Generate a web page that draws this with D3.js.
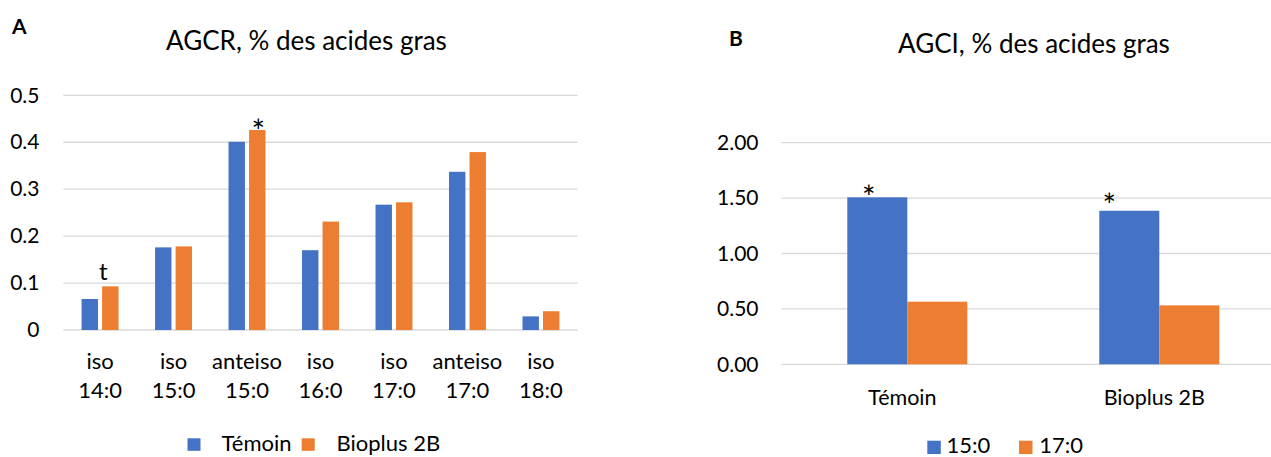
<!DOCTYPE html>
<html>
<head>
<meta charset="utf-8">
<script src="https://cdn.jsdelivr.net/npm/d3@7"></script>
<style>
  html, body { margin: 0; padding: 0; background: #fff; }
  text { font-family: Lato, "Open Sans", sans-serif; fill: #000; }
</style>
</head>
<body>
<svg id="chart" width="1271" height="457"></svg>
<script>
// Panel A: branched-chain fatty acids (AGCR)
const catsA = [["iso", "14:0"], ["iso", "15:0"], ["anteiso", "15:0"], ["iso", "16:0"],
               ["iso", "17:0"], ["anteiso", "17:0"], ["iso", "18:0"]];
const seriesA = ["Témoin", "Bioplus 2B"];
const temoinA = [0.066, 0.176, 0.401, 0.170, 0.267, 0.337, 0.029];
const bioplusA = [0.093, 0.178, 0.426, 0.231, 0.272, 0.379, 0.040];
const ticksA = [0, 0.1, 0.2, 0.3, 0.4, 0.5];
// significance marks: category index, series, symbol
const marksA = [{ cat: 0, s: 1, label: "t" }, { cat: 2, s: 1, label: "*" }];

// Panel B: odd-chain fatty acids (AGCI)
const catsB = ["Témoin", "Bioplus 2B"];
const seriesB = ["15:0", "17:0"];
const c15B = [1.507, 1.386];
const c17B = [0.565, 0.532];
const ticksB = [0, 0.5, 1.0, 1.5, 2.0];
const marksB = [{ cat: 0, s: 0, label: "*" }, { cat: 1, s: 0, label: "*" }];

const colors = ["#4472C4", "#ED7D31"];
const gridColor = "#D9D9D9";

const svg = d3.select("#chart");
svg.append("rect").attr("width", 1271).attr("height", 457).attr("fill", "#fff");

// ---------- Panel A ----------
const gA = svg.append("g");
const xA = d3.scaleBand().domain(d3.range(catsA.length)).range([63.3, 577.7]);
const xA1 = d3.scaleBand().domain([0, 1]).range([0, xA.bandwidth()]).paddingInner(0.2).paddingOuter(0.89);
const yA = d3.scaleLinear().domain([0, 0.5]).range([330, 95.3]);

gA.append("g").selectAll("line").data(ticksA).join("line")
  .attr("x1", 63.3).attr("x2", 577.7)
  .attr("y1", d => yA(d)).attr("y2", d => yA(d))
  .attr("stroke", gridColor).attr("stroke-width", 1.3);

const yAxisA = d3.axisLeft(yA).tickValues(ticksA).tickFormat(d => d === 0 ? "0" : d3.format(".1f")(d)).tickSize(0).tickPadding(0);
gA.append("g").attr("transform", "translate(39.5,0)").call(yAxisA)
  .call(g => g.select(".domain").remove())
  .call(g => g.selectAll("text").attr("font-size", 21).attr("font-family", "Lato").attr("fill", "#000"));

const dataA = [temoinA, bioplusA];
dataA.forEach((vals, s) => {
  gA.append("g").selectAll("rect").data(vals).join("rect")
    .attr("x", (d, i) => xA(i) + xA1(s))
    .attr("width", xA1.bandwidth())
    .attr("y", d => yA(d))
    .attr("height", d => yA(0) - yA(d))
    .attr("fill", colors[s]);
});

// category labels (two lines)
const xlabA = gA.append("g").selectAll("text").data(catsA).join("text")
  .attr("x", (d, i) => xA(i) + xA.bandwidth() / 2)
  .attr("text-anchor", "middle").attr("font-size", 22);
xlabA.append("tspan").attr("x", (d, i) => xA(i) + xA.bandwidth() / 2).attr("y", 369).text(d => d[0]);
xlabA.append("tspan").attr("x", (d, i) => xA(i) + xA.bandwidth() / 2).attr("y", 398).text(d => d[1]);

const markOffA = { "t": { dx: -7, dy: -6, size: 24 }, "*": { dx: 1, dy: 13, size: 32 } };
gA.append("g").selectAll("text").data(marksA).join("text")
  .attr("x", d => xA(d.cat) + xA1(d.s) + xA1.bandwidth() / 2 + markOffA[d.label].dx)
  .attr("y", d => yA(dataA[d.s][d.cat]) + markOffA[d.label].dy)
  .attr("text-anchor", "middle").attr("font-size", d => markOffA[d.label].size)
  .text(d => d.label);

svg.append("text").attr("x", 306.5).attr("y", 50).attr("text-anchor", "middle")
  .attr("font-size", 26).text("AGCR, % des acides gras");
svg.append("text").attr("x", 12).attr("y", 34).attr("font-size", 21).attr("font-weight", "bold").text("A");

// legend A
const legA = svg.append("g");
const legAItems = [{ x: 187.5, tx: 221.5 }, { x: 301.7, tx: 336.5 }];
seriesA.forEach((name, s) => {
  legA.append("rect").attr("x", legAItems[s].x).attr("y", 438.3).attr("width", 13).attr("height", 12.5).attr("fill", colors[s]);
  legA.append("text").attr("x", legAItems[s].tx).attr("y", 450.5).attr("font-size", 22).text(name);
});

// ---------- Panel B ----------
const gB = svg.append("g");
const xB = d3.scaleBand().domain(d3.range(catsB.length)).range([781.3, 1285.3]);
const xB1 = d3.scaleBand().domain([0, 1]).range([0, xB.bandwidth()]).paddingInner(0).paddingOuter(1.1);
const yB = d3.scaleLinear().domain([0, 2]).range([364.3, 142.7]);

gB.append("g").selectAll("line").data(ticksB).join("line")
  .attr("x1", 781.3).attr("x2", 1271)
  .attr("y1", d => yB(d)).attr("y2", d => yB(d))
  .attr("stroke", gridColor).attr("stroke-width", 1.3);

const yAxisB = d3.axisLeft(yB).tickValues(ticksB).tickFormat(d3.format(".2f")).tickSize(0).tickPadding(0);
gB.append("g").attr("transform", "translate(758.5,0)").call(yAxisB)
  .call(g => g.select(".domain").remove())
  .call(g => g.selectAll("text").attr("font-size", 21).attr("font-family", "Lato").attr("fill", "#000"));

const dataB = [c15B, c17B];
dataB.forEach((vals, s) => {
  gB.append("g").selectAll("rect").data(vals).join("rect")
    .attr("x", (d, i) => xB(i) + xB1(s))
    .attr("width", xB1.bandwidth())
    .attr("y", d => yB(d))
    .attr("height", d => yB(0) - yB(d))
    .attr("fill", colors[s]);
});

gB.append("g").selectAll("text").data(catsB).join("text")
  .attr("x", (d, i) => xB(i) + xB.bandwidth() / 2 - 5)
  .attr("y", 405).attr("text-anchor", "middle").attr("font-size", 21.5)
  .text(d => d);

const markOffB = [{ dx: -8.5, dy: 12, size: 32 }, { dx: -20, dy: 6, size: 32 }];
gB.append("g").selectAll("text").data(marksB).join("text")
  .attr("x", (d, i) => xB(d.cat) + xB1(d.s) + xB1.bandwidth() / 2 + markOffB[i].dx)
  .attr("y", (d, i) => yB(dataB[d.s][d.cat]) + markOffB[i].dy)
  .attr("text-anchor", "middle").attr("font-size", (d, i) => markOffB[i].size)
  .text(d => d.label);

svg.append("text").attr("x", 1034).attr("y", 53).attr("text-anchor", "middle")
  .attr("font-size", 26).text("AGCI, % des acides gras");
svg.append("text").attr("x", 729).attr("y", 46).attr("font-size", 21).attr("font-weight", "bold").text("B");

// legend B
const legB = svg.append("g");
const legBItems = [{ x: 927.3, tx: 946.5 }, { x: 1019, tx: 1039.3 }];
seriesB.forEach((name, s) => {
  legB.append("rect").attr("x", legBItems[s].x).attr("y", 440.7).attr("width", 13.5).attr("height", 13.3).attr("fill", colors[s]);
  legB.append("text").attr("x", legBItems[s].tx).attr("y", 452.5).attr("font-size", 22).text(name);
});
</script>
</body>
</html>
